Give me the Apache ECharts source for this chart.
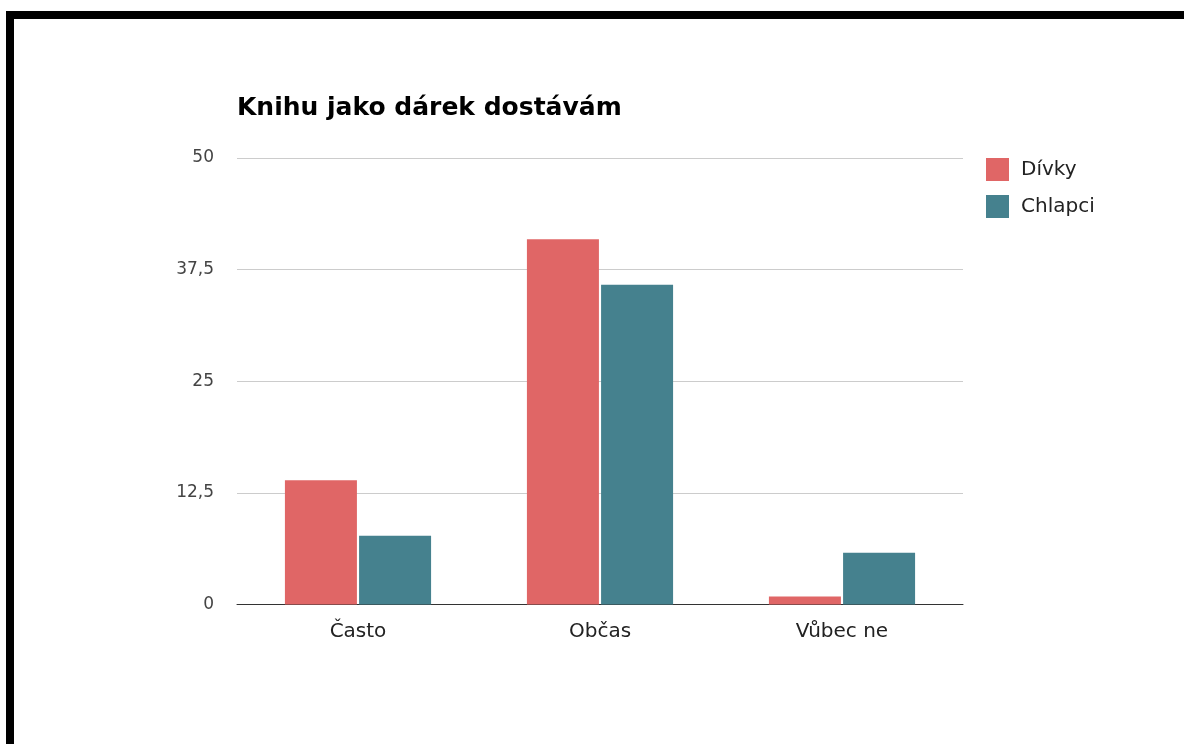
<!DOCTYPE html>
<html>
<head>
<meta charset="utf-8">
<script src="https://cdn.jsdelivr.net/npm/echarts@6/dist/echarts.min.js"></script>
<style>
  html, body { margin: 0; padding: 0; background: #fff; }
  #frame { position: absolute; left: 6px; top: 11px; width: 1178px; height: 733px;
           border-top: 8px solid #000; border-left: 8px solid #000; box-sizing: border-box; }
  #chart { position: absolute; left: 0; top: 0; width: 1184px; height: 744px; }
</style>
</head>
<body>
<div id="chart"></div>
<div id="frame"></div>
<script>
const categories = ['Často', 'Občas', 'Vůbec ne'];
const seriesNames = ['Dívky', 'Chlapci'];
const divkyValues = [13.9, 40.9, 0.9];
const chlapciValues = [7.7, 35.8, 5.8];
const yTicks = [0, 12.5, 25, 37.5, 50];
const titleText = 'Knihu jako dárek dostávám';

const chart = echarts.init(document.getElementById('chart'), null, { renderer: 'canvas' });
const font = 'DejaVu Sans';
chart.setOption({
  backgroundColor: 'transparent',
  animation: false,
  title: {
    text: titleText,
    left: 232, top: 91,
    textStyle: { fontFamily: font, fontWeight: 'bold', fontSize: 25, color: '#000' }
  },
  legend: {
    data: seriesNames,
    orient: 'vertical',
    left: 981, top: 153,
    itemWidth: 23, itemHeight: 23, itemGap: 14,
    icon: 'rect',
    textStyle: { fontFamily: font, fontSize: 20, color: '#222', padding: [0, 0, 0, 7] }
  },
  grid: { left: 237, right: 221, top: 158, bottom: 139.5, containLabel: false },
  xAxis: {
    type: 'category',
    data: categories,
    axisTick: { show: false },
    axisLine: { lineStyle: { color: '#333', width: 1 } },
    axisLabel: { fontFamily: font, fontSize: 20, color: '#222', margin: 17 }
  },
  yAxis: {
    type: 'value',
    min: yTicks[0], max: yTicks[yTicks.length - 1], interval: 12.5,
    axisLine: { show: false },
    axisTick: { show: false },
    splitLine: { lineStyle: { color: '#ccc', width: 1 } },
    axisLabel: {
      fontFamily: font, fontSize: 17, color: '#444', margin: 23,
      formatter: v => String(v).replace('.', ',')
    }
  },
  series: [
    { name: seriesNames[0], type: 'bar', data: divkyValues, barWidth: 72, barGap: '3%',
      itemStyle: { color: '#e06666' } },
    { name: seriesNames[1], type: 'bar', data: chlapciValues, barWidth: 72, barGap: '3%',
      itemStyle: { color: '#45818e' } }
  ]
});
</script>
</body>
</html>
